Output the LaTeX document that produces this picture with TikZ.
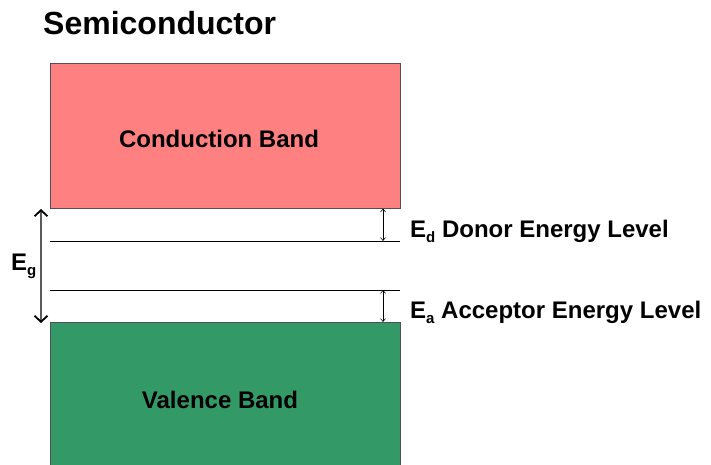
\documentclass[tikz,border=0pt]{standalone}
\usepackage{fontspec}
\setmainfont{Liberation Sans}
\usetikzlibrary{arrows.meta}
\definecolor{condred}{RGB}{255,128,128}
\definecolor{valgreen}{RGB}{51,153,102}
\definecolor{edgegray}{RGB}{80,80,80}
\newcommand{\subs}[1]{\raisebox{-5.5pt}{\fontsize{15}{17}\selectfont #1}}
\begin{document}
\begin{tikzpicture}[x=1pt,y=-1pt,
  band/.style={draw=edgegray,line width=0.8pt,inner sep=0pt},
  lbl/.style={font=\bfseries\fontsize{24}{28}\selectfont,inner sep=0pt},
  level/.style={draw=black,line width=0.7pt},
  gap/.style={draw=black,line width=0.6pt,{Straight Barb[length=3pt,width=5pt]}-{Straight Barb[length=3pt,width=5pt]}},
  bigarrow/.style={draw=gray!70!black,line width=1.8pt,
    {Straight Barb[length=6pt,width=13pt,line width=1.8pt,color=black]}-{Straight Barb[length=6pt,width=13pt,line width=1.8pt,color=black]}}]
\useasboundingbox (0,0) rectangle (711,465);
% title
\node[font=\bfseries\fontsize{32}{36}\selectfont,anchor=base west,inner sep=0pt] (title) at (43,35) {Semiconductor};
% bands
\node[band,fill=condred,minimum width=350pt,minimum height=145pt,anchor=north west] (cb) at (50,63) {};
\node[lbl] (cbl) at (219,139) {Conduction Band};
\path[fill=valgreen] (50,322) rectangle (400,466);
\coordinate (vbl-l) at (50,466);
\coordinate (vbl-r) at (400,466);
\coordinate (vb-tl) at (50,322);
\coordinate (vb-tr) at (400,322);
\draw[draw=edgegray,line width=0.8pt] (vbl-l) -- (vb-tl) -- (vb-tr) -- (vbl-r);
\node[lbl] (vbtext) at (220,400) {Valence Band};
% impurity levels
\coordinate (d-l) at (50,241); \coordinate (d-r) at (400,241);
\coordinate (a-l) at (50,290); \coordinate (a-r) at (400,290);
\draw[level] (d-l) -- (d-r);
\draw[level] (a-l) -- (a-r);
% small energy gaps
\coordinate (cbg) at (383,208.5); \coordinate (dg) at (383,241);
\coordinate (ag) at (383,290); \coordinate (vbg) at (383,322);
\draw[gap] (cbg) -- (dg);
\draw[gap] (ag) -- (vbg);
% band gap
\coordinate (eg-top) at (41,209); \coordinate (eg-bot) at (41,323);
\draw[bigarrow] (eg-top) -- (eg-bot);
\node[lbl,anchor=base west] (eg) at (11,270) {E\subs{g}};
% labels
\node[lbl,anchor=base west] (ed) at (410,237) {E\subs{d} Donor Energy Level};
\node[lbl,anchor=base west] (ea) at (410,318) {E\subs{a} Acceptor Energy Level};
\end{tikzpicture}
\end{document}
